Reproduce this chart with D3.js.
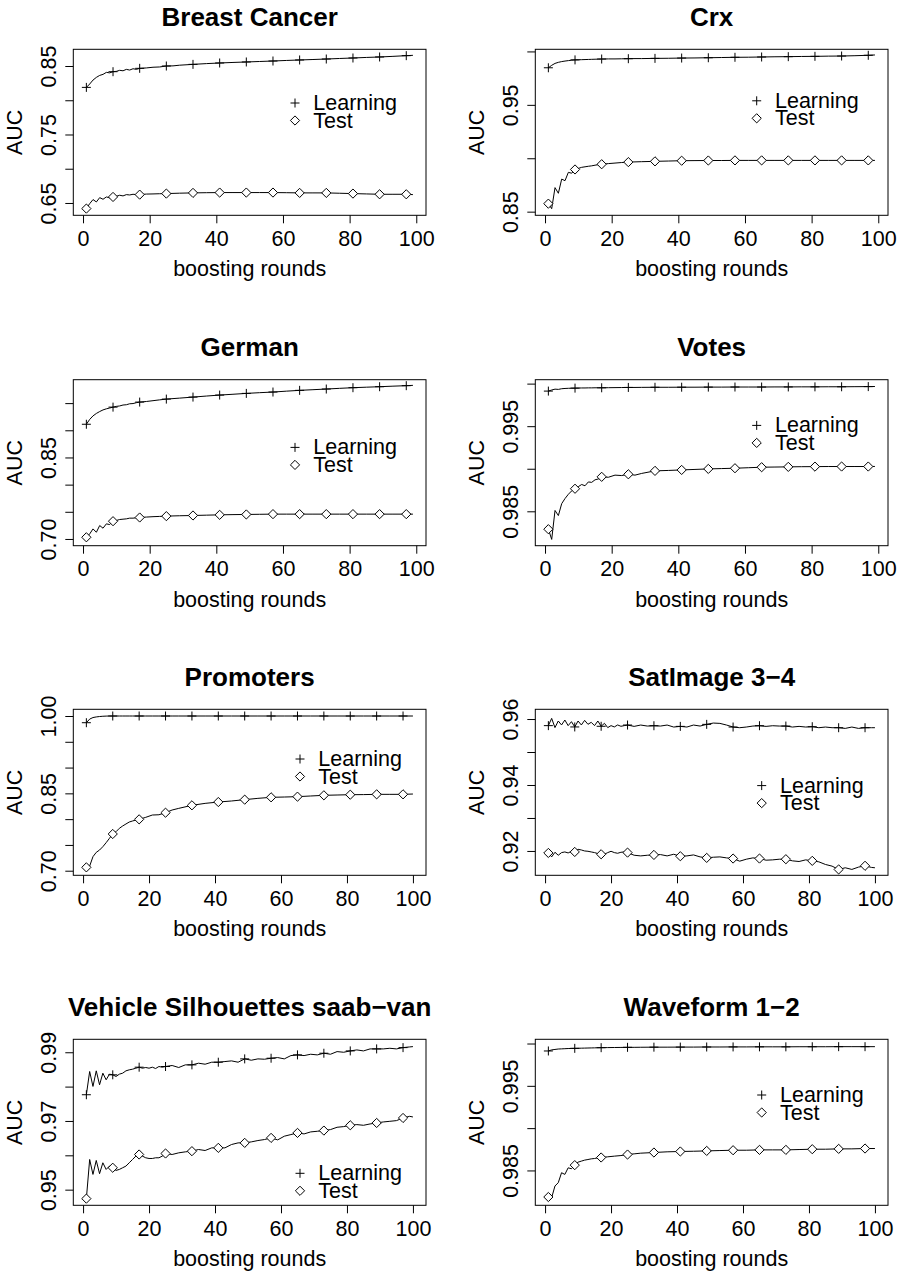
<!DOCTYPE html>
<html>
<head>
<meta charset="utf-8">
<script src="https://cdn.jsdelivr.net/npm/d3@7"></script>
<style>
  body { margin: 0; background: #fff; }
  svg text { font-family: "Liberation Sans", Arial, Helvetica, sans-serif; fill: #000; }
</style>
</head>
<body>
<svg id="chart" width="903" height="1275"></svg>
<script>
// boosting rounds sampled for each curve
const roundsTo99 = [1,2,3,4,5,6,7,8,9,10,11,12,13,14,15,16,17,19,21,23,25,27,29,33,37,41,45,49,53,57,61,65,69,73,77,81,85,89,93,97,99];
const roundsTo100 = [1,2,3,4,5,6,7,8,9,10,11,12,13,14,15,16,17,19,21,23,25,27,29,33,37,41,45,49,53,57,61,65,69,73,77,81,85,89,93,97,100];
const roundsDense = [1,2,3,4,5,6,7,8,9,10,11,12,13,14,15,16,17,18,19,20,21,22,23,24,25,27,29,31,33,35,37,39,41,43,45,47,49,51,53,55,57,59,61,63,65,67,69,71,73,75,77,79,81,83,85,87,89,91,93,95,97,99,100];

const xTicks = [0, 20, 40, 60, 80, 100];
const seriesNames = ['Learning', 'Test'];

// Breast Cancer
const breastLearning = [0.8188,0.8237,0.8295,0.8334,0.8363,0.8378,0.8407,0.8400,0.8417,0.8422,0.8437,0.8430,0.8451,0.8441,0.8460,0.8451,0.8466,0.8472,0.8482,0.8486,0.8500,0.8502,0.8512,0.8524,0.8535,0.8544,0.8552,0.8559,0.8566,0.8573,0.8581,0.8588,0.8595,0.8602,0.8610,0.8617,0.8625,0.8632,0.8641,0.8651,0.8656];
const breastTest = [0.6418,0.6490,0.6550,0.6515,0.6578,0.6554,0.6588,0.6574,0.6588,0.6598,0.6613,0.6603,0.6622,0.6617,0.6627,0.6622,0.6622,0.6630,0.6632,0.6635,0.6637,0.6640,0.6643,0.6647,0.6650,0.6652,0.6652,0.6652,0.6652,0.6652,0.6650,0.6647,0.6647,0.6647,0.6642,0.6637,0.6632,0.6627,0.6627,0.6627,0.6622];
const breastTicks = [0.65, 0.70, 0.75, 0.80, 0.85];
const breastLabels = ['0.65', '', '0.75', '', '0.85'];

// Crx
const crxLearning = [0.9847,0.9870,0.9888,0.9898,0.9905,0.9910,0.9914,0.9918,0.9921,0.9922,0.9923,0.9924,0.9925,0.9926,0.9927,0.9928,0.9929,0.9930,0.9930,0.9931,0.9932,0.9933,0.9933,0.9935,0.9936,0.9938,0.9939,0.9941,0.9943,0.9945,0.9946,0.9948,0.9950,0.9951,0.9953,0.9954,0.9956,0.9957,0.9960,0.9964,0.9967];
const crxTest = [0.8575,0.8528,0.8725,0.8672,0.8805,0.8790,0.8868,0.8860,0.8895,0.8905,0.8915,0.8920,0.8925,0.8929,0.8935,0.8940,0.8944,0.8950,0.8955,0.8960,0.8964,0.8966,0.8968,0.8971,0.8974,0.8977,0.8978,0.8979,0.8979,0.8980,0.8980,0.8980,0.8980,0.8980,0.8980,0.8980,0.8980,0.8980,0.8980,0.8980,0.8980];
const crxTicks = [0.85, 0.90, 0.95, 1.00];
const crxLabels = ['0.85', '', '0.95', ''];

// German
const germanLearning = [0.9111,0.9200,0.9265,0.9310,0.9345,0.9375,0.9395,0.9410,0.9426,0.9440,0.9448,0.9465,0.9470,0.9488,0.9492,0.9508,0.9519,0.9530,0.9545,0.9560,0.9574,0.9583,0.9592,0.9611,0.9630,0.9648,0.9663,0.9679,0.9692,0.9704,0.9720,0.9735,0.9747,0.9759,0.9772,0.9784,0.9793,0.9802,0.9812,0.9821,0.9827];
const germanTest = [0.7031,0.7093,0.7185,0.7123,0.7247,0.7198,0.7278,0.7265,0.7327,0.7340,0.7358,0.7364,0.7370,0.7383,0.7383,0.7389,0.7395,0.7403,0.7410,0.7415,0.7420,0.7424,0.7427,0.7432,0.7438,0.7444,0.7448,0.7451,0.7454,0.7457,0.7457,0.7457,0.7457,0.7457,0.7457,0.7457,0.7457,0.7457,0.7457,0.7457,0.7457];
const germanTicks = [0.70, 0.75, 0.80, 0.85, 0.90, 0.95];
const germanLabels = ['0.70', '', '', '0.85', '', ''];

// Votes
const votesLearning = [0.99912,0.99925,0.99935,0.99932,0.99940,0.99943,0.99945,0.99946,0.99947,0.99948,0.99949,0.99949,0.99950,0.99950,0.99951,0.99951,0.99951,0.99952,0.99953,0.99954,0.99955,0.99955,0.99956,0.99957,0.99957,0.99958,0.99958,0.99959,0.99959,0.99960,0.99960,0.99960,0.99961,0.99961,0.99962,0.99962,0.99963,0.99963,0.99964,0.99965,0.99966];
const votesTest = [0.98290,0.98170,0.98510,0.98450,0.98590,0.98650,0.98700,0.98740,0.98765,0.98790,0.98815,0.98800,0.98845,0.98840,0.98870,0.98880,0.98905,0.98900,0.98925,0.98920,0.98935,0.98925,0.98945,0.98975,0.98980,0.98986,0.98992,0.98998,0.99002,0.99006,0.99012,0.99018,0.99020,0.99022,0.99024,0.99025,0.99026,0.99026,0.99026,0.99026,0.99027];
const votesTicks = [0.985, 0.990, 0.995, 1.000];
const votesLabels = ['0.985', '', '0.995', ''];

// Promoters
const promotersLearning = [0.9870,0.9940,0.9970,0.9982,0.9990,0.9995,0.9998,1,1,1,1,1,1,1,1,1,1,1,1,1,1,1,1,1,1,1,1,1,1,1,1,1,1,1,1,1,1,1,1,1,1];
const promotersTest = [0.7065,0.7090,0.7272,0.7356,0.7401,0.7466,0.7544,0.7628,0.7712,0.7757,0.7822,0.7867,0.7906,0.7944,0.7964,0.7983,0.7996,0.8035,0.8080,0.8085,0.8125,0.8177,0.8209,0.8268,0.8306,0.8332,0.8352,0.8378,0.8403,0.8423,0.8429,0.8436,0.8449,0.8462,0.8468,0.8474,0.8476,0.8481,0.8481,0.8481,0.8487];
const promotersTicks = [0.70, 0.75, 0.80, 0.85, 0.90, 0.95, 1.00];
const promotersLabels = ['0.70', '', '', '0.85', '', '', '1.00'];

// SatImage 3-4
const satLearning = [0.9580,0.9602,0.9574,0.9594,0.9582,0.9597,0.9580,0.9592,0.9576,0.9594,0.9582,0.9596,0.9584,0.9590,0.9580,0.9594,0.9578,0.9587,0.9574,0.9580,0.9576,0.9582,0.9578,0.9580,
  0.95818,0.95777,0.95818,0.95787,0.95797,0.95787,0.95818,0.95757,0.95777,0.95757,0.95818,0.95787,0.95838,0.95878,0.95868,0.95818,0.95757,0.95737,0.95757,0.95787,0.95797,0.95777,0.95797,0.95787,0.95787,0.95757,0.95777,0.95757,0.95767,0.95737,0.95757,0.95737,0.95737,0.95716,0.95757,0.95716,0.95737,0.95737,0.95737];
const satTest = [0.9194,0.9182,0.9196,0.9187,0.9195,0.9197,0.9194,0.9199,0.9197,0.9205,0.9203,0.9200,0.9199,0.9197,0.9195,0.9192,0.9190,0.9190,0.9195,0.9199,0.9195,0.9193,0.9196,0.9197,
  0.9195,0.9187,0.9185,0.9187,0.9188,0.9189,0.9185,0.9190,0.9184,0.9185,0.9188,0.9182,0.9179,0.9181,0.9182,0.9179,0.9177,0.9169,0.9175,0.9179,0.9177,0.9172,0.9173,0.9175,0.9175,0.9170,0.9168,0.9173,0.9170,0.9167,0.9159,0.9154,0.9144,0.9149,0.9144,0.9151,0.9155,0.9150,0.9149];
const satTicks = [0.92, 0.93, 0.94, 0.95, 0.96];
const satLabels = ['0.92', '', '0.94', '', '0.96'];

// Vehicle Silhouettes saab-van
const vehicleLearning = [0.97763,0.98440,0.98005,0.98459,0.98053,0.98391,0.98198,0.98362,0.98343,0.98295,0.98362,0.98391,0.98459,0.98488,0.98507,0.98536,0.98565,0.98536,0.98556,0.98536,0.98565,0.98527,0.98585,0.98565,
  0.98585,0.98614,0.98556,0.98633,0.98633,0.98681,0.98652,0.98710,0.98710,0.98729,0.98749,0.98710,0.98807,0.98768,0.98807,0.98797,0.98826,0.98845,0.98807,0.98903,0.98923,0.98903,0.98942,0.98923,0.98971,0.98942,0.99019,0.99000,0.99039,0.99068,0.99039,0.99097,0.99097,0.99097,0.99116,0.99097,0.99135,0.99155,0.99164];
const vehicleTest = [0.94739,0.95879,0.95444,0.95850,0.95464,0.95783,0.95589,0.95686,0.95638,0.95560,0.95589,0.95638,0.95686,0.95783,0.95879,0.95976,0.96024,0.95976,0.95928,0.95908,0.95908,0.95928,0.95928,0.95976,
  0.96053,0.96024,0.96072,0.96101,0.96121,0.96169,0.96140,0.96217,0.96217,0.96217,0.96314,0.96362,0.96362,0.96391,0.96430,0.96459,0.96507,0.96449,0.96556,0.96604,0.96652,0.96623,0.96681,0.96700,0.96720,0.96749,0.96816,0.96836,0.96874,0.96894,0.96874,0.96913,0.96942,0.96971,0.96990,0.97010,0.97087,0.97135,0.97116];
const vehicleTicks = [0.95, 0.96, 0.97, 0.98, 0.99];
const vehicleLabels = ['0.95', '', '0.97', '', '0.99'];

// Waveform 1-2
const waveLearning = [0.99912,0.99925,0.99930,0.99935,0.99937,0.99939,0.99941,0.99942,0.99943,0.99944,0.99945,0.99946,0.99947,0.99948,0.99949,0.99950,0.99951,0.99952,0.99953,0.99954,0.99955,0.99955,0.99956,0.99957,0.99957,0.99958,0.99958,0.99959,0.99959,0.99960,0.99960,0.99961,0.99961,0.99961,0.99962,0.99962,0.99962,0.99963,0.99963,0.99963,0.99963];
const waveTest = [0.98186,0.98178,0.98316,0.98355,0.98473,0.98453,0.98531,0.98520,0.98563,0.98598,0.98610,0.98622,0.98629,0.98637,0.98641,0.98649,0.98653,0.98661,0.98669,0.98676,0.98688,0.98696,0.98704,0.98712,0.98720,0.98724,0.98727,0.98731,0.98735,0.98739,0.98739,0.98743,0.98743,0.98743,0.98747,0.98751,0.98751,0.98755,0.98755,0.98759,0.98759];
const waveTicks = [0.985, 0.990, 0.995, 1.000];
const waveLabels = ['0.985', '', '0.995', ''];

const panels = [
  { title: 'Breast Cancer', rounds: roundsTo99, learning: breastLearning, test: breastTest, yTicks: breastTicks, yLabels: breastLabels, yDomain: [0.632, 0.8744] },
  { title: 'Crx', rounds: roundsTo99, learning: crxLearning, test: crxTest, yTicks: crxTicks, yLabels: crxLabels, yDomain: [0.8466, 1.002] },
  { title: 'German', rounds: roundsTo99, learning: germanLearning, test: germanTest, yTicks: germanTicks, yLabels: germanLabels, yDomain: [0.6876, 0.9931] },
  { title: 'Votes', rounds: roundsTo99, learning: votesLearning, test: votesTest, yTicks: votesTicks, yLabels: votesLabels, yDomain: [0.98096, 1.00046] },
  { title: 'Promoters', rounds: roundsTo100, learning: promotersLearning, test: promotersTest, yTicks: promotersTicks, yLabels: promotersLabels, yDomain: [0.6911, 1.013] },
  { title: 'SatImage 3\u22124', rounds: roundsDense, learning: satLearning, test: satTest, yTicks: satTicks, yLabels: satLabels, yDomain: [0.91262, 0.96295] },
  { title: 'Vehicle Silhouettes saab\u2212van', rounds: roundsDense, learning: vehicleLearning, test: vehicleTest, yTicks: vehicleTicks, yLabels: vehicleLabels, yDomain: [0.94545, 0.99377] },
  { title: 'Waveform 1\u22122', rounds: roundsTo100, learning: waveLearning, test: waveTest, yTicks: waveTicks, yLabels: waveLabels, yDomain: [0.98088, 1.0005] }
];

// layout
const colLeft = [73.3, 535.3];
const rowTop = [49.3, 379.7, 709.3, 1039.3];
const boxW = 352.7;
const boxH = 166;
const legendAt = [[221.7, 60.7], [221.4, 58.5], [221.7, 74.7], [221.4, 52.7], [226.7, 56.7], [226.4, 83.3], [226.7, 141], [226.4, 62.7]];
const fontSize = 21.5;

const plusPath = 'M-4.5,0H4.5M0,-4.5V4.5';
const diamondPath = 'M0,-4.6L4.6,0L0,4.6L-4.6,0Z';
const markerPaths = [plusPath, diamondPath];

const svg = d3.select('#chart');
svg.append('rect').attr('width', 903).attr('height', 1275).attr('fill', '#fff');

panels.forEach((p, i) => {
  const left = colLeft[i % 2];
  const top = rowTop[Math.floor(i / 2)];
  const g = svg.append('g').attr('transform', `translate(${left},${top})`);

  // R style axis range: data extent padded by 4%
  const [r0, r1] = d3.extent(p.rounds);
  const pad = (r1 - r0) * 0.04;
  const x = d3.scaleLinear().domain([r0 - pad, r1 + pad]).range([0, boxW]);
  const y = d3.scaleLinear().domain(p.yDomain).range([boxH, 0]);

  g.append('rect')
    .attr('width', boxW).attr('height', boxH)
    .attr('fill', 'none').attr('stroke', '#000').attr('stroke-width', 1);

  [p.learning, p.test].forEach((values, s) => {
    const pts = p.rounds.map((r, j) => ({ r, v: values[j] }));
    g.append('path')
      .datum(pts)
      .attr('fill', 'none')
      .attr('stroke', '#000')
      .attr('stroke-width', 1)
      .attr('stroke-linejoin', 'round')
      .attr('d', d3.line().x(d => x(d.r)).y(d => y(d.v)));

    g.selectAll(null)
      .data(pts.filter(d => (d.r - 1) % 8 === 0 && d.r <= 97))
      .enter().append('path')
      .attr('transform', d => `translate(${x(d.r)},${y(d.v)})`)
      .attr('d', markerPaths[s])
      .attr('fill', s === 1 ? '#fff' : 'none')
      .attr('stroke', '#000')
      .attr('stroke-width', 1);
  });

  const xAxis = g.append('g')
    .attr('transform', `translate(0,${boxH})`)
    .call(d3.axisBottom(x).tickValues(xTicks).tickSize(8).tickPadding(7));
  xAxis.select('.domain').remove();

  const yAxis = g.append('g')
    .call(d3.axisLeft(y).tickValues(p.yTicks).tickSize(8).tickFormat((d, k) => p.yLabels[k]));
  yAxis.select('.domain').remove();
  yAxis.selectAll('text')
    .attr('transform', 'rotate(-90)')
    .attr('x', 0)
    .attr('y', -17.7)
    .attr('dy', null)
    .attr('text-anchor', 'middle');

  [xAxis, yAxis].forEach(a => {
    a.attr('font-family', null).attr('font-size', fontSize);
    a.selectAll('line').attr('stroke', '#000').attr('stroke-width', 1);
  });

  g.append('text')
    .attr('x', boxW / 2).attr('y', -23.5)
    .attr('text-anchor', 'middle')
    .attr('font-weight', 'bold')
    .attr('font-size', 26)
    .text(p.title);

  g.append('text')
    .attr('x', boxW / 2).attr('y', boxH + 61)
    .attr('text-anchor', 'middle')
    .attr('font-size', fontSize)
    .text('boosting rounds');

  g.append('text')
    .attr('transform', `translate(-51.3,${boxH / 2}) rotate(-90)`)
    .attr('text-anchor', 'middle')
    .attr('font-size', fontSize)
    .text('AUC');

  const [lx, ly] = legendAt[i];
  const legend = g.append('g').attr('transform', `translate(${lx},${ly})`);
  seriesNames.forEach((name, s) => {
    legend.append('path')
      .attr('transform', `translate(0,${s * 17.5 - 7})`)
      .attr('d', markerPaths[s])
      .attr('fill', 'none')
      .attr('stroke', '#000')
      .attr('stroke-width', 1);
    legend.append('text')
      .attr('x', 18.3).attr('y', s * 17.5)
      .attr('font-size', fontSize)
      .text(name);
  });
});
</script>
</body>
</html>
